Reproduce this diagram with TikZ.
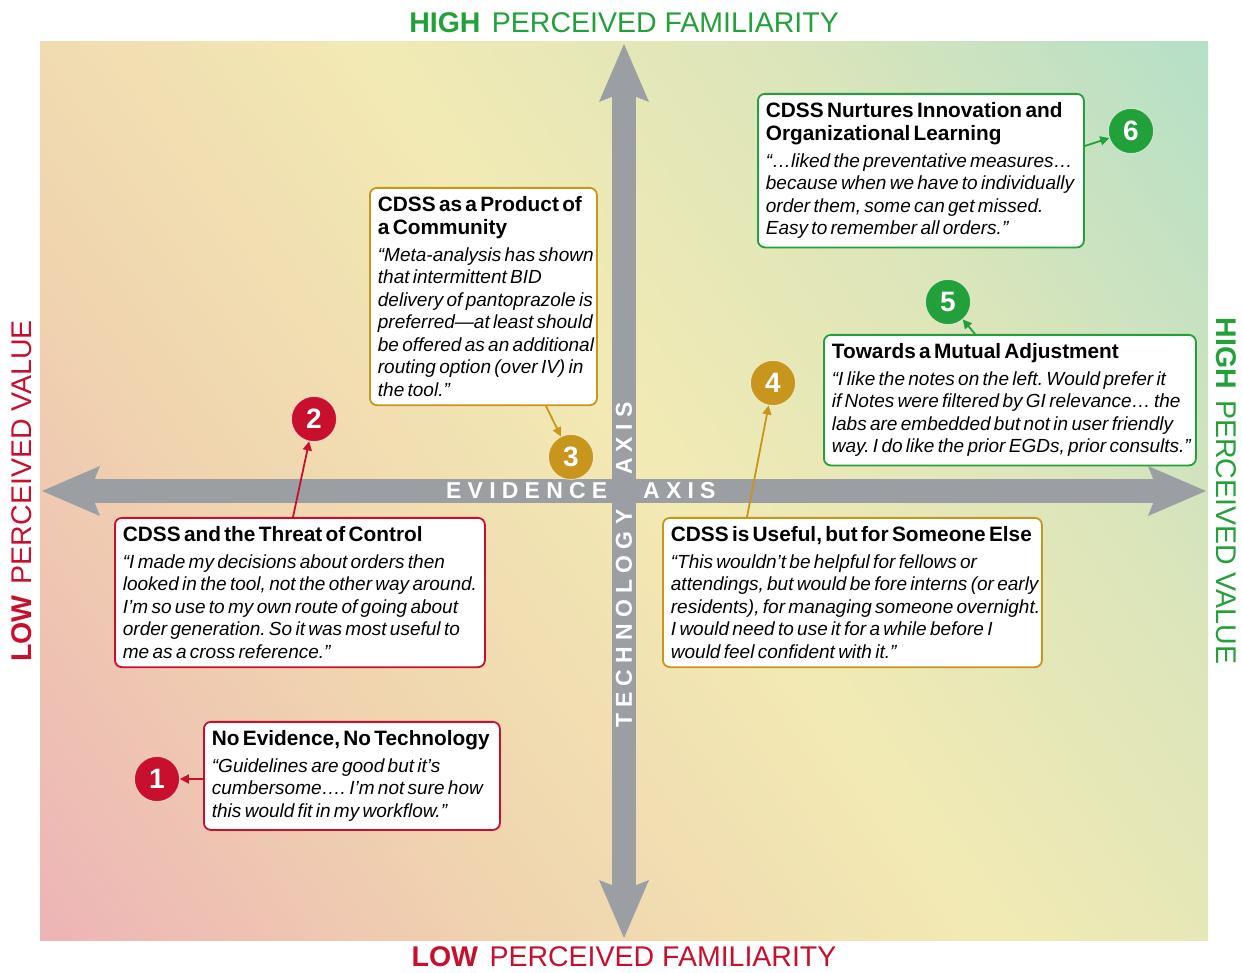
\documentclass[tikz,border=0pt]{standalone}
\usepackage{fontspec}
\setmainfont{Liberation Sans}
\newfontfamily\axisfont[LetterSpace=27]{Liberation Sans}
\usepackage{tikz}
\usetikzlibrary{arrows.meta}
\setlength\parindent{0pt}
\frenchspacing

\definecolor{evred}{HTML}{C8102E}
\definecolor{evgold}{HTML}{C8961C}
\definecolor{evgreen}{HTML}{22A03A}
\definecolor{axisgray}{HTML}{9B9EA2}
\definecolor{bgpink}{HTML}{EDB4B6}
\definecolor{bgpeach}{HTML}{F0D4AF}
\definecolor{bgyellow}{HTML}{F2EAB4}
\definecolor{bglime}{HTML}{DCE5BA}
\definecolor{bggreen}{HTML}{B2DFC8}

\pgfdeclarehorizontalshading{quadrants}{100bp}{color(0bp)=(bgpink); color(15bp)=(bgpink); color(34bp)=(bgpeach); color(52bp)=(bgyellow); color(68bp)=(bglime); color(86bp)=(bggreen); color(100bp)=(bggreen)}

% box fonts; the lines are broken by hand, so let a long one squeeze instead of wrapping
\newcommand\nowrap{\hyphenpenalty=10000\exhyphenpenalty=10000\rightskip=0pt plus 1fil minus 30pt}
\newcommand\boxtitle{\normalfont\fontsize{20.8}{23}\selectfont\bfseries\nowrap}
\newcommand\boxquote{\normalfont\fontsize{19}{22.5}\selectfont\itshape\nowrap}

\tikzstyle{quotebox}=[fill=white, line width=1.8pt, rounded corners=7pt, anchor=north west, align=left, inner xsep=8pt, inner ysep=8.5pt]
\tikzstyle{num}=[circle, inner sep=0pt, minimum size=45pt, draw=white, draw opacity=0.6, line width=0.8pt, text=white, font=\fontsize{28}{28}\selectfont\bfseries]
\tikzstyle{pointer}=[line width=1.8pt, -{Triangle[length=9pt,width=9pt]}]
\tikzstyle{bigarrow}=[draw=axisgray, line width=24pt, {Stealth[length=58pt,width=50pt,inset=10pt,line width=0pt]}-{Stealth[length=58pt,width=50pt,inset=10pt,line width=0pt]}]
\tikzstyle{axislabel}=[font=\axisfont\fontsize{23}{23}\selectfont\bfseries, text=white, inner sep=0pt, anchor=west]
\tikzstyle{side}=[font=\fontsize{28.5}{30}\selectfont, inner sep=0pt]

\begin{document}
\begin{tikzpicture}[x=1pt,y=1pt]
    \useasboundingbox (0,0) rectangle (1242,972);
    \shade[shading=quadrants, shading angle=35] (40,32) rectangle (1208,930);

    % the two axes
    \coordinate (w) at (42,481);
    \coordinate (e) at (1206,481);
    \coordinate (s) at (624,34);
    \coordinate (n) at (624,928);
    \draw[bigarrow] (w) -- (e);
    \draw[bigarrow] (s) -- (n);
    \node[axislabel] (ev) at (446,481) {EVIDENCE};
    \node[axislabel] (evaxis) at (643,481) {AXIS};
    \node[axislabel, rotate=90] (tech) at (624,244) {TECHNOLOGY};
    \node[axislabel, rotate=90] (techaxis) at (624,497) {AXIS};

    % outer labels
    \node[side, text=evgreen] (highfam) at (624,949) {\textbf{HIGH}\hspace{0.4em}PERCEIVED FAMILIARITY};
    \node[side, text=evred] (lowfam) at (624,15) {\textbf{LOW}\hspace{0.4em}PERCEIVED FAMILIARITY};
    \node[side, text=evred, rotate=90] (lowval) at (22,481) {\textbf{LOW}\hspace{0.4em}PERCEIVED VALUE};
    \node[side, text=evgreen, rotate=-90] (highval) at (1226,481) {\textbf{HIGH}\hspace{0.4em}PERCEIVED VALUE};

    % quote boxes
    \node[quotebox, draw=evred, text width=280pt] (b1) at (203,251) {\boxtitle No Evidence, No Technology\par\vspace{4.5pt}\boxquote “Guidelines are good but it’s\\cumbersome…. I’m not sure how\\this would fit in my workflow.”\par};
    \node[quotebox, draw=evred, text width=354pt] (b2) at (114,455) {\boxtitle CDSS and the Threat of Control\par\vspace{4.5pt}\boxquote “I made my decisions about orders then\\looked in the tool, not the other way around.\\I’m so use to my own route of going about\\order generation. So it was most useful to\\me as a cross reference.”\par};
    \node[quotebox, draw=evgold, text width=211pt] (b3) at (369,785) {\boxtitle CDSS as a Product of\\a Community\par\vspace{4.5pt}\boxquote “Meta-analysis has shown\\that intermittent BID\\delivery of pantoprazole is\\preferred—at least should\\be offered as an additional\\routing option (over IV) in\\the tool.”\par};
    \node[quotebox, draw=evgold, text width=363pt] (b4) at (662,455) {\boxtitle CDSS is Useful, but for Someone Else\par\vspace{4.5pt}\boxquote “This wouldn’t be helpful for fellows or\\attendings, but would be fore interns (or early\\residents), for managing someone overnight.\\I would need to use it for a while before I\\would feel confident with it.”\par};
    \node[quotebox, draw=evgreen, text width=356pt] (b5) at (823,638) {\boxtitle Towards a Mutual Adjustment\par\vspace{4.5pt}\boxquote “I like the notes on the left. Would prefer it\\if Notes were filtered by GI relevance… the\\labs are embedded but not in user friendly\\way. I do like the prior EGDs, prior consults.”\par};
    \node[quotebox, draw=evgreen, text width=310pt] (b6) at (757,879) {\boxtitle CDSS Nurtures Innovation and\\Organizational Learning\par\vspace{4.5pt}\boxquote “…liked the preventative measures…\\because when we have to individually\\order them, some can get missed.\\Easy to remember all orders.”\par};

    % numbered markers
    \node[num, fill=evred] (c1) at (157,193) {1};
    \node[num, fill=evred] (c2) at (314,553) {2};
    \node[num, fill=evgold] (c3) at (571,515) {3};
    \node[num, fill=evgold] (c4) at (773,589) {4};
    \node[num, fill=evgreen] (c5) at (948,670) {5};
    \node[num, fill=evgreen] (c6) at (1131,841) {6};

    \draw[pointer, evred] (b1.west |- c1) -- (c1);
    \draw[pointer, evred] ([xshift=179pt]b2.north west) -- (c2);
    \draw[pointer, evgold] ([xshift=177pt]b3.south west) -- (c3);
    \draw[pointer, evgold] ([xshift=85pt]b4.north west) -- (c4);
    \draw[pointer, evgreen] ([xshift=152pt]b5.north west) -- (c5);
    \draw[pointer, evgreen] ([yshift=-53pt]b6.north east) -- (c6);
\end{tikzpicture}
\end{document}
